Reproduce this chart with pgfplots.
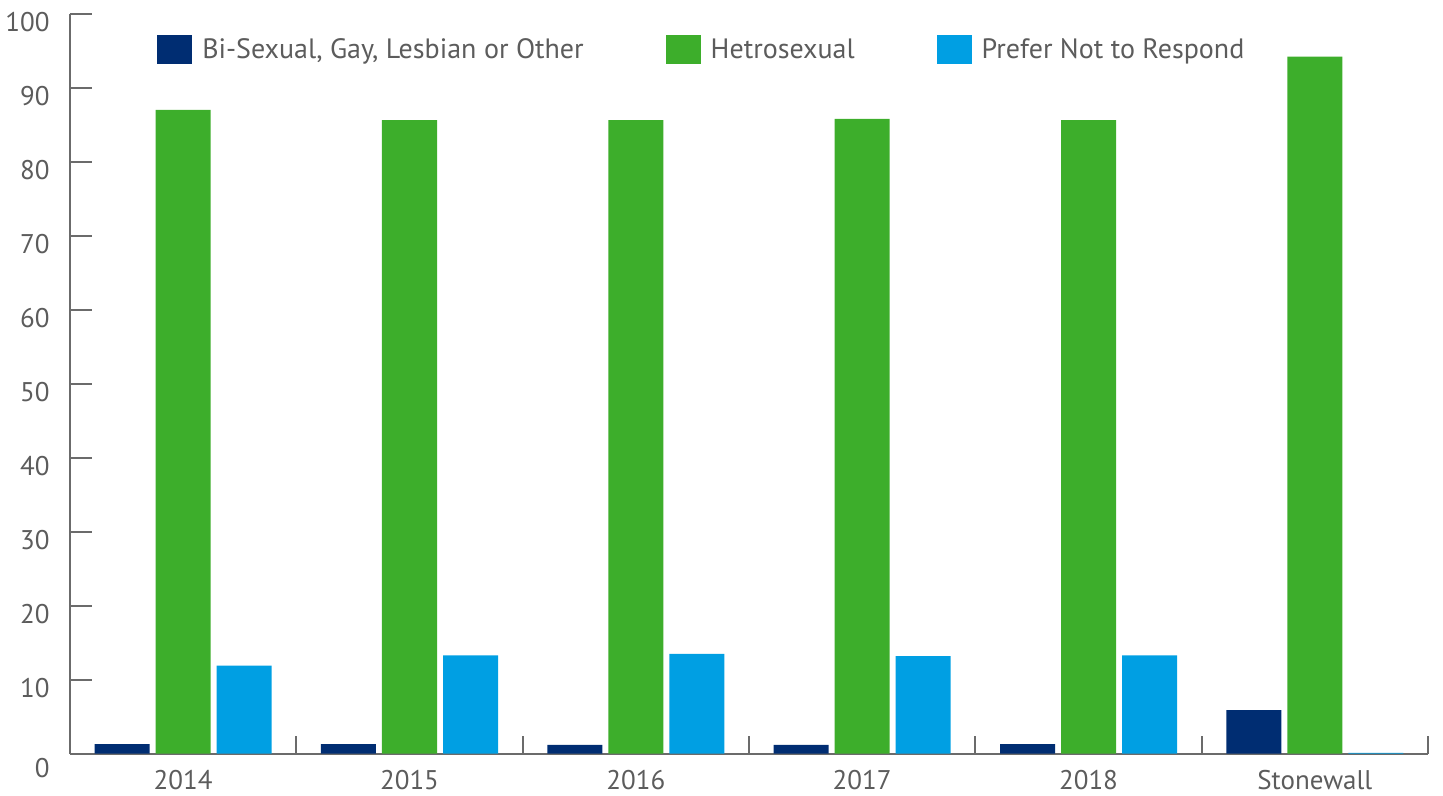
\documentclass[border=0pt]{standalone}
\usepackage{fontspec}
\setmainfont{PT Sans}
\usepackage{pgfplots}
\pgfplotsset{compat=1.18}
\definecolor{cdark}{HTML}{002D72}
\definecolor{cgreen}{HTML}{3DAE2B}
\definecolor{clight}{HTML}{009FE3}
\definecolor{axgray}{HTML}{6B6B6B}
\definecolor{txgray}{HTML}{5C5C5C}
\pgfplotsset{mylegend/.style={legend image code/.code={\fill[##1,draw=none] (0pt,-7.25pt) rectangle (17.5pt,7.25pt);}}}
\begin{document}
\begin{tikzpicture}
\begin{axis}[
 scale only axis, width=679pt, height=370pt,
 xmin=-0.5, xmax=5.5, ymin=0, ymax=100,
 axis lines=left, axis line style={-, draw=axgray, line width=1pt},
 ybar=3pt, bar width=27.5pt,
 xtick={0,1,2,3,4,5}, xticklabels={2014,2015,2016,2017,2018,Stonewall},
 major x tick style={draw=none},
 minor xtick={0.5,1.5,2.5,3.5,4.5,5.5},
 minor x tick style={draw=axgray, line width=1pt},
 minor tick length=9pt,
 major tick length=11pt,
 tick align=inside,
 ytick={10,20,30,40,50,60,70,80,90,100},
 y tick style={draw=axgray, line width=1pt},
 extra y ticks={0},
 extra y tick style={major tick length=0pt, yticklabel style={yshift=-3pt}},
 /pgf/number format/assume math mode=true,
 tick label style={font=\fontsize{13.5}{16}\selectfont, text=txgray},
 yticklabel style={anchor=base east, inner sep=0pt, xshift=-10pt, yshift=-9pt},
 xticklabel style={anchor=base, inner sep=0pt, yshift=-18pt},
 legend style={at={(0.064,0.951)}, anchor=west, draw=none, fill=none, inner sep=0pt,
   font=\fontsize{14}{16}\selectfont, text=txgray,
   nodes={inner xsep=5pt},
   /tikz/every even column/.append style={column sep=36pt}},
 legend columns=3,
 clip=false,
]
\addplot[fill=cdark, draw=none, mylegend] coordinates {(0,1.3) (1,1.3) (2,1.2) (3,1.2) (4,1.3) (5,5.9)};
\addplot[fill=cgreen, draw=none, mylegend] coordinates {(0,87.0) (1,85.6) (2,85.6) (3,85.8) (4,85.6) (5,94.2)};
\addplot[fill=clight, draw=none, mylegend] coordinates {(0,11.9) (1,13.3) (2,13.5) (3,13.2) (4,13.3) (5,0.1)};
\legend{Bi-Sexual{,} Gay{,} Lesbian or Other, Hetrosexual, Prefer Not to Respond}
\path[use as bounding box] (rel axis cs:0,0) ++(-35pt,-21.15pt) rectangle ++(721.5pt,398pt);
\end{axis}
\end{tikzpicture}
\end{document}
